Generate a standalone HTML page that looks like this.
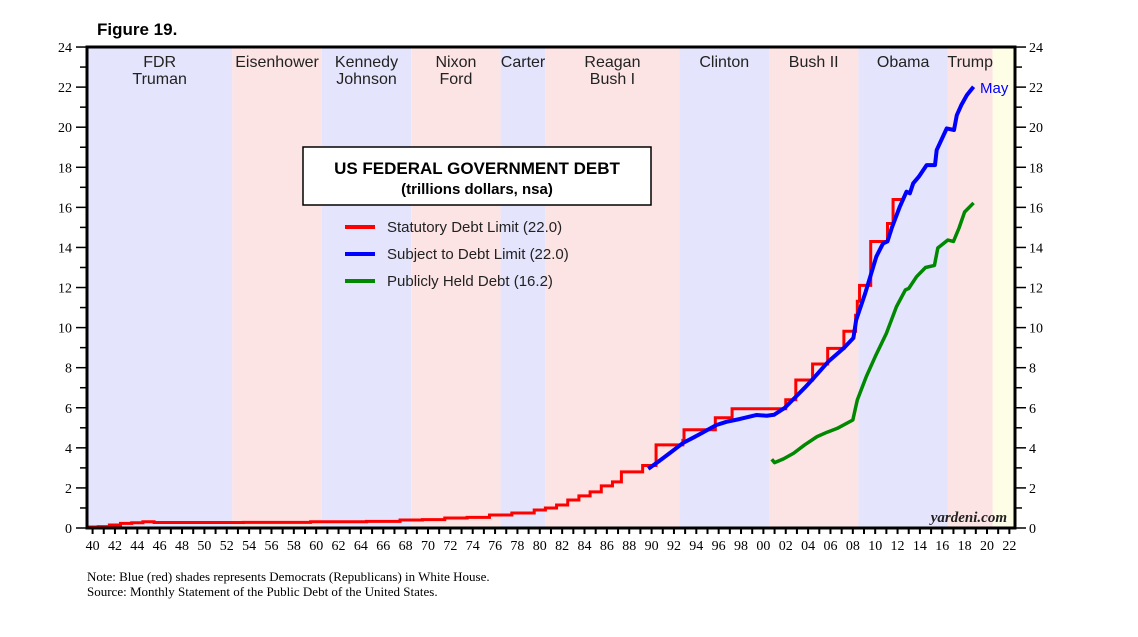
<!DOCTYPE html>
<html><head><meta charset="utf-8"><style>
body{margin:0;background:#fff;width:1138px;height:632px;overflow:hidden}
svg text{font-family:"Liberation Sans",sans-serif}
.serif{font-family:"Liberation Serif",serif}
</style></head><body>
<svg id="chart" width="1138" height="632" viewBox="0 0 1138 632" xmlns="http://www.w3.org/2000/svg">
<text x="97" y="35" font-size="17" font-weight="bold">Figure 19.</text>
<g id="bands"></g>
<g id="labels"></g>
<g id="series"></g>
<rect x="87" y="47" width="928" height="481" fill="none" stroke="#000" stroke-width="3"/>
<g id="axes"></g>
<g>
<rect x="303" y="147" width="348" height="58" fill="#fff" stroke="#000" stroke-width="1.5"/>
<text x="477" y="174" font-size="17" font-weight="bold" text-anchor="middle">US FEDERAL GOVERNMENT DEBT</text>
<text x="477" y="194" font-size="15" font-weight="bold" text-anchor="middle">(trillions dollars, nsa)</text>
</g>
<g>
<line x1="345" y1="227" x2="375" y2="227" stroke="#f00" stroke-width="4"/>
<text x="387" y="232" font-size="15" fill="#222">Statutory Debt Limit (22.0)</text>
<line x1="345" y1="254" x2="375" y2="254" stroke="#00f" stroke-width="4"/>
<text x="387" y="259" font-size="15" fill="#222">Subject to Debt Limit (22.0)</text>
<line x1="345" y1="281" x2="375" y2="281" stroke="#080" stroke-width="4"/>
<text x="387" y="286" font-size="15" fill="#222">Publicly Held Debt (16.2)</text>
</g>
<text x="980" y="93" font-size="15" fill="#00f">May</text>
<text x="1007" y="522" font-size="15" font-style="italic" font-weight="bold" class="serif" text-anchor="end" fill="#222">yardeni.com</text>
<text x="87" y="581" font-size="13" class="serif">Note: Blue (red) shades represents Democrats (Republicans) in White House.</text>
<text x="87" y="596" font-size="13" class="serif">Source: Monthly Statement of the Public Debt of the United States.</text>
</svg>
<script>
const bandStarts=[1940,1953,1961,1969,1977,1981,1993,2001,2009,2017,2021];
const bandEnds=[1953,1961,1969,1977,1981,1993,2001,2009,2017,2021,2023];
const bandParty=["d","r","d","r","d","r","d","r","d","r","n"];
const presNames=[["FDR","Truman"],["Eisenhower"],["Kennedy","Johnson"],["Nixon","Ford"],["Carter"],["Reagan","Bush I"],["Clinton"],["Bush II"],["Obama"],["Trump"],[]];
const limitYears=[1940,1941,1942,1943,1944,1945,1946,1954,1960,1965,1968,1970,1972,1974,1976,1978,1980,1981,1982,1983,1984,1985,1986,1987,1987.8,1989.7,1990.9,1993.3,1993.4,1996.2,1997.7,2002.5,2003.4,2004.9,2006.25,2007.7,2008.75,2008.9,2009.1,2010.1,2011.6,2012.1];
const limitValues=[0.05,0.07,0.15,0.23,0.26,0.31,0.275,0.28,0.31,0.33,0.4,0.42,0.5,0.53,0.65,0.75,0.9,1.0,1.15,1.4,1.6,1.8,2.1,2.3,2.8,3.12,4.145,4.37,4.9,5.5,5.95,6.4,7.384,8.184,8.965,9.815,10.615,11.315,12.104,14.294,15.194,16.394];
const limitEnd=2013.0;
const subjYears=[1990.2,1991.2,1992.3,1993.3,1994.2,1995.0,1996.3,1997.2,1998.4,1999.2,1999.9,2000.8,2001.45,2002.4,2003.4,2004.2,2005.0,2006.3,2007.7,2008.55,2008.8,2009.6,2010.6,2011.2,2011.6,2012.0,2012.7,2013.3,2013.6,2013.9,2014.4,2015.1,2015.85,2016.0,2016.9,2017.55,2017.8,2018.2,2018.7,2019.3];
const subjValues=[2.95,3.35,3.81,4.24,4.5,4.74,5.14,5.3,5.44,5.55,5.64,5.6,5.65,5.99,6.55,7.0,7.48,8.3,8.98,9.48,10.38,11.7,13.54,14.2,14.3,15.0,16.03,16.78,16.7,17.2,17.53,18.11,18.11,18.86,19.94,19.86,20.6,21.1,21.6,22.02];
const pubYears=[2001.25,2001.5,2002.3,2003.2,2004.2,2005.3,2006.2,2007.1,2008.5,2008.9,2009.7,2010.5,2011.5,2012.4,2013.2,2013.5,2014.2,2015.0,2015.8,2016.1,2017.0,2017.5,2018.0,2018.5,2019.3];
const pubValues=[3.43,3.26,3.45,3.73,4.15,4.56,4.78,4.97,5.39,6.39,7.55,8.55,9.71,11.04,11.88,11.95,12.54,13.0,13.1,13.97,14.37,14.3,14.97,15.77,16.22];
const yTicks=[0,2,4,6,8,10,12,14,16,18,20,22,24];
const xTickLabels=["40","42","44","46","48","50","52","54","56","58","60","62","64","66","68","70","72","74","76","78","80","82","84","86","88","90","92","94","96","98","00","02","04","06","08","10","12","14","16","18","20","22"];

const NS="http://www.w3.org/2000/svg";
const X=y=>87+(y-1940)*11.18;
const Y=v=>528-v*20.04;
function mk(parent,tag,attrs){const e=document.createElementNS(NS,tag);for(const k in attrs)e.setAttribute(k,attrs[k]);document.getElementById(parent).appendChild(e);return e;}
const bandColor={d:"#e4e4fc",r:"#fde4e4",n:"#fefde6"};
bandStarts.forEach((s,i)=>{
  const r=mk("bands","rect",{x:X(s),y:47,width:X(bandEnds[i])-X(s),height:481,fill:bandColor[bandParty[i]]});
  
  
  const names=presNames[i];
  names.forEach((n,j)=>{
    const t=mk("labels","text",{x:(X(s)+X(bandEnds[i]))/2,y:67+j*17,"font-size":16,"text-anchor":"middle",fill:"#222"});
    t.textContent=n;
    
    
  });
});
// red step
let d="";
limitYears.forEach((yr,i)=>{
  const nx=i<limitYears.length-1?limitYears[i+1]:limitEnd;
  d+=(i==0?"M":"L")+X(yr)+","+Y(limitValues[i])+"L"+X(nx)+","+Y(limitValues[i]);
});
const red=mk("series","path",{d:d,fill:"none",stroke:"#f00","stroke-width":3});


const blue=mk("series","polyline",{points:subjYears.map((y,i)=>X(y)+","+Y(subjValues[i])).join(" "),fill:"none",stroke:"#00f","stroke-width":4,"stroke-linejoin":"round"});


const green=mk("series","polyline",{points:pubYears.map((y,i)=>X(y)+","+Y(pubValues[i])).join(" "),fill:"none",stroke:"#080","stroke-width":3.5,"stroke-linejoin":"round"});


// axes
for(let v=0;v<=24;v++){
  const major=v%2==0;
  mk("axes","line",{x1:major?76:80,x2:86,y1:Y(v),y2:Y(v),stroke:"#000","stroke-width":1.5});
  mk("axes","line",{x1:1016,x2:major?1026:1022,y1:Y(v),y2:Y(v),stroke:"#000","stroke-width":1.5});
}
yTicks.forEach(v=>{
  const a=mk("axes","text",{x:72,y:Y(v)+5,"font-size":14,"text-anchor":"end",class:"serif"});a.textContent=v;
  
  
  const b=mk("axes","text",{x:1029,y:Y(v)+5,"font-size":14,class:"serif"});b.textContent=v;
  
  
});
for(let yr=1940;yr<=2022;yr++){
  mk("axes","line",{x1:X(yr+0.5),x2:X(yr+0.5),y1:529,y2:534,stroke:"#000","stroke-width":2});
}
xTickLabels.forEach((l,i)=>{
  const t=mk("axes","text",{x:X(1940+2*i+0.5),y:550,"font-size":14,"text-anchor":"middle",class:"serif"});t.textContent=l;
  
  
});
</script>
</body></html>
